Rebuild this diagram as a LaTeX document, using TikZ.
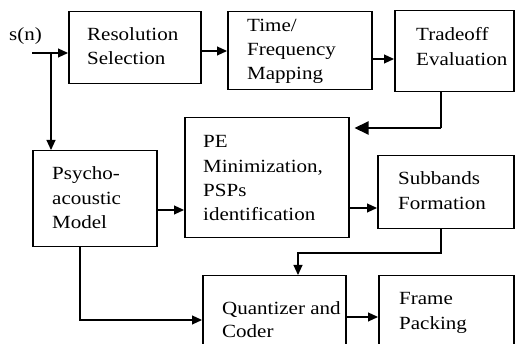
\documentclass[tikz,border=0pt]{standalone}
\usepackage{fontspec}
\setmainfont[FakeStretch=1.13]{Liberation Serif}
\usetikzlibrary{arrows.meta}
\begin{document}
\begin{tikzpicture}[x=1pt,y=-1pt,
  blk/.style={draw,line width=1.5pt,inner sep=0pt,anchor=north west},
  lbl/.style={anchor=base west,inner sep=0pt,font=\fontsize{18.6}{24.5}\selectfont},
  conn/.style={line width=1.1pt,-{Triangle[length=10pt,width=9pt]}},
  wire/.style={line width=1.1pt},
  bigconn/.style={line width=2pt,-{Triangle[length=14pt,width=13pt]}}]
\useasboundingbox (0,0) rectangle (515,344);
\begin{scope}
\clip (0,0) rectangle (515,344);
% blocks, given by their corners
\node[blk,minimum width=132pt,minimum height=72pt] (RS) at (68,11) {};
\node[blk,minimum width=144pt,minimum height=78pt] (TF) at (227,11) {};
\node[blk,minimum width=119pt,minimum height=81pt] (TO) at (394,10) {};
\node[blk,minimum width=164pt,minimum height=120pt] (PE) at (184,117) {};
\node[blk,minimum width=136pt,minimum height=73pt] (SB) at (377,155) {};
\node[blk,minimum width=124pt,minimum height=96pt] (PS) at (32,150) {};
\node[blk,minimum width=143pt,minimum height=80pt] (QC) at (202,275) {};
\node[blk,minimum width=135pt,minimum height=80pt] (FP) at (378,275) {};
\end{scope}

% block texts
\node[lbl] (sn) at (9,41) {s(n)};
\node[lbl] (rs1) at (87,41) {Resolution};
\node[lbl] (rs2) at (87,65) {Selection};
\node[lbl] (tf1) at (247,32) {Time/};
\node[lbl] (tf2) at (247,56) {Frequency};
\node[lbl] (tf3) at (247,80) {Mapping};
\node[lbl] (to1) at (416,41) {Tradeoff};
\node[lbl] (to2) at (416,66) {Evaluation};
\node[lbl] (ps1) at (52,180) {Psycho-};
\node[lbl] (ps2) at (52,205) {acoustic};
\node[lbl] (ps3) at (52,229) {Model};
\node[lbl] (pe1) at (203,148) {PE};
\node[lbl] (pe2) at (203,173) {Minimization,};
\node[lbl] (pe3) at (203,197) {PSPs};
\node[lbl] (pe4) at (203,221) {identification};
\node[lbl] (sb1) at (398,185) {Subbands};
\node[lbl] (sb2) at (398,210) {Formation};
\node[lbl] (qc1) at (222,315) {Quantizer and};
\node[lbl] (qc2) at (222,338) {Coder};
\node[lbl] (fp1) at (399,305) {Frame};
\node[lbl] (fp2) at (399,330) {Packing};

% connectors
\coordinate (in) at (32,53);
\coordinate (split) at (51,53);
\coordinate (toturn) at (441,128);
\coordinate (sbturn) at (441,253);
\coordinate (qcturn) at (298,253);
\coordinate (psturn) at (80,320);

\draw[conn] (in) -- (in -| RS.west);
\draw[conn] (split) -- (split |- PS.north);
\draw[conn] (RS.east |- 0,51) -- (TF.west |- 0,51);
\draw[conn] (TF.east |- 0,59) -- (TO.west |- 0,59);
\draw[wire,line width=2pt] (toturn |- TO.south) -- (toturn);
\draw[bigconn,shorten >=5pt] (toturn) -- (toturn -| PE.east);
\draw[conn] (PS.east |- 0,210) -- (PE.west |- 0,210);
\draw[conn] (PE.east |- 0,208) -- (SB.west |- 0,208);
\draw[conn] (sbturn |- SB.south) -- (sbturn) -- (qcturn) -- (qcturn |- QC.north);
\draw[conn] (psturn |- PS.south) -- (psturn) -- (psturn -| QC.west);
\draw[conn] (QC.east |- 0,317) -- (FP.west |- 0,317);
\end{tikzpicture}
\end{document}
